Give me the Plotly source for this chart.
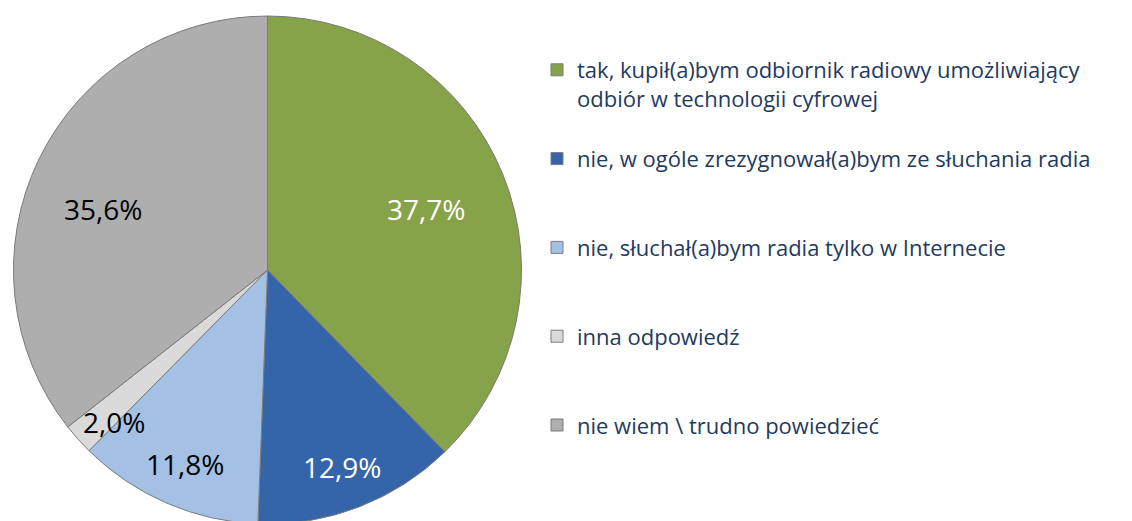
import math
import plotly.graph_objects as go

# ---- data ----
categories = [
    "tak, kupił(a)bym odbiornik radiowy umożliwiający<br>odbiór w technologii cyfrowej",
    "nie, w ogóle zrezygnował(a)bym ze słuchania radia",
    "nie, słuchał(a)bym radia tylko w Internecie",
    "inna odpowiedź",
    "nie wiem \\ trudno powiedzieć",
]
values = [37.7, 12.9, 11.8, 2.0, 35.6]
value_labels = ["37,7%", "12,9%", "11,8%", "2,0%", "35,6%"]

# ---- style ----
colors = ["#86A34A", "#3465A8", "#A4C1E5", "#DADADA", "#AEAEAE"]
label_colors = ["white", "white", "black", "black", "black"]
label_rfrac = [0.67, 0.83, 0.83, 0.85, 0.69]
label_dang = [1.2, 0.5, -0.3, -3.0, -5.4]
extra_lines = [1, 2, 2, 2, 2]
FONT = "'Open Sans', Lato, sans-serif"

W, H = 1132, 521
MT, MB = 8, 5
PW, PH = W, H - MT - MB
CX = 259.5
R = PH / 2.0

legend_names = [c + "<br> " * n for c, n in zip(categories, extra_lines)]

fig = go.Figure()
fig.add_trace(go.Pie(
    labels=legend_names,
    values=values,
    sort=False,
    direction="clockwise",
    rotation=0,
    marker=dict(colors=colors, line=dict(color="#7a7a7a", width=1)),
    textinfo="none",
    hoverinfo="label+percent",
    domain=dict(x=[(CX - R) / PW, (CX + R) / PW], y=[0, 1]),
))

# data labels placed at slice angles computed from the values
total = sum(values)
cum = 0.0
for v, txt, col, rf, da in zip(values, value_labels, label_colors, label_rfrac, label_dang):
    mid = (cum + v / 2.0) / total * 360.0 + da
    cum += v
    th = math.radians(mid)
    dx = R * rf * math.sin(th)
    dy = R * rf * math.cos(th)
    fig.add_annotation(
        x=(CX + dx) / PW, y=0.5 + dy / PH, xref="paper", yref="paper",
        text=txt, showarrow=False, xanchor="center", yanchor="middle",
        font=dict(family=FONT, size=28, color=col),
    )

fig.update_layout(
    width=W, height=H,
    margin=dict(l=0, r=0, t=MT, b=MB, autoexpand=False),
    paper_bgcolor="white",
    plot_bgcolor="white",
    showlegend=True,
    legend=dict(
        x=529 / PW, y=1 - (41 - MT) / PH, xanchor="left", yanchor="top",
        valign="top",
        font=dict(family=FONT, size=22, color="#1F3A60"),
        bgcolor="rgba(0,0,0,0)",
        traceorder="normal",
    ),
)

fig.write_html("out.html")
